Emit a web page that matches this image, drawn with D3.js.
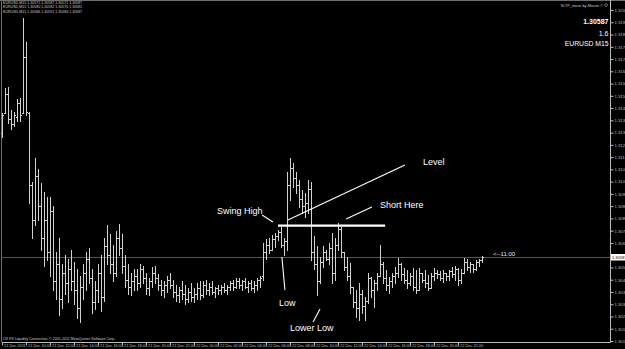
<!DOCTYPE html>
<html>
<head>
<meta charset="utf-8">
<script src="https://cdn.jsdelivr.net/npm/d3@7"></script>
<style>
  html, body { margin: 0; padding: 0; background: #000; }
  svg { display: block; }
  text { font-family: "Liberation Sans", Arial, sans-serif; }
</style>
</head>
<body>
<svg id="chart"></svg>
<script>
// EURUSD M15, one bar every 15 minutes from 21 Dec 2011 08:00
const barOpen = [
  1.3130, 1.3141, 1.3152, 1.3138, 1.3135, 1.3139, 1.3147, 1.3141, 1.3173, 1.3141,
  1.3100, 1.3080, 1.3105, 1.3088, 1.3070, 1.3080, 1.3062, 1.3085, 1.3045, 1.3055,
  1.3035, 1.3050, 1.3044, 1.3052, 1.3045, 1.3040, 1.3030, 1.3042, 1.3050, 1.3058,
  1.3047, 1.3033, 1.3040, 1.3050, 1.3036, 1.3065, 1.3060, 1.3055, 1.3050, 1.3070,
  1.3064, 1.3054, 1.3046, 1.3042, 1.3045, 1.3048, 1.3044, 1.3052, 1.3047, 1.3041,
  1.3045, 1.3050, 1.3047, 1.3043, 1.3040, 1.3043, 1.3046, 1.3043, 1.3039, 1.3037,
  1.3040, 1.3038, 1.3035, 1.3039, 1.3036, 1.3038, 1.3041, 1.3037, 1.3043, 1.3040,
  1.3042, 1.3039, 1.3041, 1.3040, 1.3042, 1.3040, 1.3042, 1.3044, 1.3042, 1.3045,
  1.3043, 1.3045, 1.3042, 1.3044, 1.3041, 1.3043, 1.3046, 1.3048, 1.3062, 1.3066,
  1.3063, 1.3069, 1.3071, 1.3073, 1.3066, 1.3068, 1.3100, 1.3110, 1.3104, 1.3100,
  1.3092, 1.3088, 1.3090, 1.3098, 1.3062, 1.3055, 1.3045, 1.3056, 1.3062, 1.3058,
  1.3064, 1.3050, 1.3066, 1.3075, 1.3062, 1.3053, 1.3048, 1.3042, 1.3033, 1.3030,
  1.3038, 1.3031, 1.3034, 1.3047, 1.3040, 1.3044, 1.3048, 1.3055, 1.3047, 1.3043,
  1.3045, 1.3048, 1.3050, 1.3055, 1.3049, 1.3046, 1.3044, 1.3048, 1.3042, 1.3040,
  1.3050, 1.3046, 1.3044, 1.3041, 1.3048, 1.3050, 1.3049, 1.3047, 1.3050, 1.3048,
  1.3051, 1.3049, 1.3052, 1.3046, 1.3050, 1.3056, 1.3053, 1.3055, 1.3052, 1.3056,
  1.3057
];
const barHigh = [
  1.3141, 1.31555, 1.3156, 1.3143, 1.3142, 1.3149, 1.3150, 1.31954, 1.31817, 1.31415,
  1.3102, 1.31155, 1.3109, 1.3101, 1.3096, 1.3093, 1.3093, 1.3088, 1.3062, 1.3070,
  1.3055, 1.3060, 1.3058, 1.3063, 1.3056, 1.3052, 1.3048, 1.3055, 1.3062, 1.3064,
  1.3052, 1.3045, 1.3055, 1.3060, 1.3070, 1.3077, 1.3072, 1.3066, 1.3074, 1.3078,
  1.3072, 1.3060, 1.3055, 1.3050, 1.3052, 1.3052, 1.3055, 1.3054, 1.3050, 1.3047,
  1.3053, 1.3054, 1.3049, 1.3046, 1.3045, 1.3048, 1.3050, 1.3046, 1.3043, 1.3042,
  1.3045, 1.3043, 1.3041, 1.3044, 1.3041, 1.3044, 1.3045, 1.3045, 1.3046, 1.3044,
  1.3045, 1.3042, 1.3043, 1.3043, 1.3044, 1.3043, 1.3045, 1.3046, 1.3047, 1.3047,
  1.3046, 1.3047, 1.3045, 1.3046, 1.3045, 1.3047, 1.3048, 1.3067, 1.3069, 1.3070,
  1.30715, 1.30727, 1.30745, 1.3076, 1.3070, 1.31075, 1.31155, 1.31126, 1.31075, 1.3103,
  1.3097, 1.30955, 1.3103, 1.3102, 1.3071, 1.3065, 1.3059, 1.3065, 1.3063, 1.3067,
  1.30727, 1.3070, 1.30784, 1.3076, 1.3062, 1.3059, 1.30555, 1.3042, 1.3040, 1.3044,
  1.3040, 1.3036, 1.3050, 1.30475, 1.3046, 1.3050, 1.30658, 1.3056, 1.30515, 1.30475,
  1.3050, 1.3053, 1.30584, 1.30555, 1.30527, 1.30515, 1.3050, 1.30527, 1.30515, 1.30527,
  1.3050, 1.30515, 1.30487, 1.3050, 1.30527, 1.30515, 1.3051, 1.30515, 1.3050, 1.30515,
  1.3053, 1.30538, 1.30527, 1.3052, 1.30584, 1.3058, 1.3056, 1.3055, 1.3057, 1.3058,
  1.30595
];
const barLow = [
  1.31275, 1.3141, 1.31355, 1.3132, 1.3134, 1.31366, 1.31366, 1.3141, 1.3140, 1.3090,
  1.3070, 1.3077, 1.3080, 1.3063, 1.3054, 1.3057, 1.3048, 1.3040, 1.3035, 1.3026,
  1.3030, 1.3038, 1.3033, 1.3040, 1.3032, 1.3024, 1.3022, 1.3035, 1.3040, 1.3044,
  1.3027, 1.3029, 1.3033, 1.3028, 1.3034, 1.3055, 1.3050, 1.3045, 1.3048, 1.3060,
  1.3050, 1.3042, 1.3038, 1.3037, 1.3040, 1.3040, 1.3042, 1.3044, 1.3038, 1.3037,
  1.3042, 1.3044, 1.3040, 1.3037, 1.3036, 1.3039, 1.3041, 1.3036, 1.3034, 1.3033,
  1.3035, 1.3032, 1.3033, 1.3034, 1.3033, 1.3035, 1.3035, 1.3036, 1.3038, 1.3037,
  1.3038, 1.3036, 1.3038, 1.3038, 1.3039, 1.3038, 1.3040, 1.3040, 1.3041, 1.3041,
  1.3040, 1.3041, 1.3039, 1.3040, 1.3039, 1.3040, 1.3042, 1.3046, 1.3058, 1.3061,
  1.3063, 1.30647, 1.30688, 1.30647, 1.3060, 1.3063, 1.30915, 1.3099, 1.30955, 1.30875,
  1.3084, 1.3082, 1.3084, 1.3057, 1.3052, 1.3037, 1.3044, 1.3053, 1.3057, 1.3055,
  1.3044, 1.3046, 1.3063, 1.3059, 1.30515, 1.3046, 1.30384, 1.30305, 1.30247, 1.3023,
  1.3027, 1.3023, 1.30327, 1.3036, 1.30305, 1.3040, 1.3048, 1.3044, 1.3040, 1.30384,
  1.3042, 1.3044, 1.30475, 1.3046, 1.3044, 1.3041, 1.3043, 1.3040, 1.30384, 1.3040,
  1.30446, 1.3042, 1.3040, 1.3041, 1.30458, 1.3047, 1.30458, 1.30446, 1.30458, 1.30458,
  1.30475, 1.30458, 1.3043, 1.3044, 1.3050, 1.30515, 1.30504, 1.30504, 1.30515, 1.3054,
  1.3056
];
const barClose = [
  1.3140, 1.3152, 1.3138, 1.3135, 1.3140, 1.3147, 1.3140, 1.3173, 1.3142, 1.3100,
  1.3080, 1.3105, 1.3088, 1.3070, 1.3080, 1.3062, 1.3085, 1.3045, 1.3055, 1.3035,
  1.3050, 1.3044, 1.3052, 1.3045, 1.3040, 1.3030, 1.3042, 1.3050, 1.3058, 1.3047,
  1.3033, 1.3040, 1.3050, 1.3036, 1.3065, 1.3060, 1.3055, 1.3050, 1.3070, 1.3064,
  1.3054, 1.3046, 1.3042, 1.3045, 1.3048, 1.3044, 1.3052, 1.3047, 1.3041, 1.3045,
  1.3050, 1.3047, 1.3043, 1.3040, 1.3043, 1.3046, 1.3043, 1.3039, 1.3037, 1.3040,
  1.3038, 1.3035, 1.3039, 1.3036, 1.3038, 1.3041, 1.3037, 1.3043, 1.3040, 1.3042,
  1.3039, 1.3041, 1.3040, 1.3042, 1.3040, 1.3042, 1.3044, 1.3042, 1.3045, 1.3043,
  1.3045, 1.3042, 1.3044, 1.3041, 1.3043, 1.3046, 1.3047, 1.3062, 1.3066, 1.3063,
  1.3069, 1.3071, 1.3073, 1.3066, 1.3068, 1.3100, 1.3110, 1.3104, 1.3100, 1.3092,
  1.3088, 1.3090, 1.3098, 1.3062, 1.3055, 1.3045, 1.3056, 1.3062, 1.3058, 1.3064,
  1.3050, 1.3066, 1.3075, 1.3062, 1.3053, 1.3048, 1.3042, 1.3033, 1.3030, 1.3038,
  1.3031, 1.3034, 1.3047, 1.3040, 1.3044, 1.3048, 1.3055, 1.3047, 1.3043, 1.3045,
  1.3048, 1.3050, 1.3055, 1.3049, 1.3046, 1.3044, 1.3048, 1.3042, 1.3040, 1.3050,
  1.3046, 1.3044, 1.3041, 1.3048, 1.3050, 1.3049, 1.3047, 1.3050, 1.3048, 1.3051,
  1.3049, 1.3052, 1.3046, 1.3050, 1.3056, 1.3053, 1.3055, 1.3052, 1.3056, 1.3057,
  1.30587
];

const priceTicks = [1.3011, 1.3018, 1.3025, 1.3032, 1.3039, 1.3046, 1.3053, 1.3060, 1.3067, 1.3074,
  1.3081, 1.3088, 1.3095, 1.3102, 1.3109, 1.3116, 1.3123, 1.3130, 1.3137, 1.3144,
  1.3151, 1.3158, 1.3165, 1.3172, 1.3179, 1.3186, 1.3193, 1.3200];

const timeTicks = ["2011-12-21 08:00", "2011-12-21 10:00", "2011-12-21 12:00", "2011-12-21 14:00",
  "2011-12-21 16:00", "2011-12-21 18:00", "2011-12-21 20:00", "2011-12-21 22:00",
  "2011-12-22 00:00", "2011-12-22 02:00", "2011-12-22 04:00", "2011-12-22 06:00",
  "2011-12-22 08:00", "2011-12-22 10:00", "2011-12-22 12:00", "2011-12-22 14:00",
  "2011-12-22 16:00", "2011-12-22 18:00", "2011-12-22 20:00", "2011-12-22 22:00"];

const infoLines = [
  "EURUSD,M15  1.30571  1.30587  1.30571  1.30587",
  "EURUSD,M15  1.30580  1.30582  1.30576  1.30581",
  "EURUSD,M15  1.30586  1.30591  1.30583  1.30587"
];

// hand drawn objects, placed by bar number and price
const levelLine = { from: 92, to: 127.7, price: 1.30769 };
const pointers = [
  { x1: 95.3, p1: 1.30801, x2: 134.3, p2: 1.31115 },
  { x1: 114.7, p1: 1.30807, x2: 123.3, p2: 1.30875 },
  { x1: 86.7, p1: 1.30829, x2: 90.3, p2: 1.30789 },
  { x1: 93.3, p1: 1.30590, x2: 94.3, p2: 1.30401 },
  { x1: 106, p1: 1.30293, x2: 103.7, p2: 1.30218 }
];
const notes = [
  { text: "Level", bar: 140.3, price: 1.31115 },
  { text: "Short Here", bar: 126, price: 1.30869 },
  { text: "Swing High", bar: 71.7, price: 1.30835 },
  { text: "Low", bar: 92.3, price: 1.30310 },
  { text: "Lower Low", bar: 96, price: 1.30167 }
];

const width = 625;
const height = 349;
const plotLeft = 2, plotRight = 610, plotBottom = 342;

const start = new Date(2011, 11, 21, 8, 0);
const barTime = i => new Date(start.getTime() + i * 15 * 60000);
const parseTime = d3.timeParse("%Y-%m-%d %H:%M");

const x = d3.scaleTime()
  .domain([start, barTime((plotRight - plotLeft) / 3)])
  .range([plotLeft, plotRight]);

const y = d3.scaleLinear()
  .domain([1.3011, 1.3200])
  .range([341, 10]);

const svg = d3.select("#chart")
  .attr("width", width)
  .attr("height", height)
  .style("background", "#000");

// window frame
svg.append("line").attr("x1", 0).attr("x2", width).attr("y1", 0.5).attr("y2", 0.5)
  .attr("stroke", "#6e6e6e");
svg.append("line").attr("x1", 1.5).attr("x2", 1.5).attr("y1", 0).attr("y2", plotBottom)
  .attr("stroke", "#6e6e6e");

const bars = barClose.map((c, i) => ({
  t: barTime(i), o: barOpen[i], h: barHigh[i], l: barLow[i], c: c
}));

const last = barClose[barClose.length - 1];

// bid line
const bidY = Math.round(y(last)) + 0.5;
svg.append("line")
  .attr("x1", plotLeft).attr("x2", plotRight)
  .attr("y1", bidY).attr("y2", bidY)
  .attr("stroke", "#44528a");

const g = svg.append("g").attr("shape-rendering", "crispEdges").attr("fill", "#d2d2d2");

g.selectAll(".hl")
  .data(bars)
  .enter().append("rect")
  .attr("class", "hl")
  .attr("x", d => Math.round(x(d.t)))
  .attr("y", d => Math.round(y(d.h)))
  .attr("width", 1)
  .attr("height", d => Math.max(1, Math.round(y(d.l)) - Math.round(y(d.h)) + 1));

g.selectAll(".op")
  .data(bars)
  .enter().append("rect")
  .attr("class", "op")
  .attr("x", d => Math.round(x(d.t)) - 1)
  .attr("y", d => Math.round(y(d.o)))
  .attr("width", 1)
  .attr("height", 1);

g.selectAll(".cl")
  .data(bars)
  .enter().append("rect")
  .attr("class", "cl")
  .attr("x", d => Math.round(x(d.t)) + 1)
  .attr("y", d => Math.round(y(d.c)))
  .attr("width", 1)
  .attr("height", 1);

// annotations
svg.append("line")
  .attr("x1", x(barTime(levelLine.from))).attr("x2", x(barTime(levelLine.to)))
  .attr("y1", y(levelLine.price)).attr("y2", y(levelLine.price))
  .attr("stroke", "#fff").attr("stroke-width", 2.2);

svg.selectAll(".pointer")
  .data(pointers)
  .enter().append("line")
  .attr("class", "pointer")
  .attr("x1", d => x(barTime(d.x1))).attr("y1", d => y(d.p1))
  .attr("x2", d => x(barTime(d.x2))).attr("y2", d => y(d.p2))
  .attr("stroke", "#fff").attr("stroke-width", 1.1);

svg.selectAll(".note")
  .data(notes)
  .enter().append("text")
  .attr("class", "note")
  .attr("x", d => x(barTime(d.bar)))
  .attr("y", d => y(d.price))
  .attr("fill", "#fff")
  .style("font-size", "9px")
  .text(d => d.text);

svg.append("text")
  .attr("x", x(barTime(163.7)))
  .attr("y", y(1.30595))
  .attr("fill", "#e0e0e0")
  .style("font-size", "6px")
  .text("<--11:00");

// price axis, the label under the price box is left out as in the terminal
const yAxis = d3.axisRight(y)
  .tickValues(priceTicks)
  .tickSize(3)
  .tickFormat(d => Math.abs(y(d) - bidY) < 5 ? "" : d3.format(".5f")(d));

const yAxisG = svg.append("g")
  .attr("transform", `translate(${plotRight + 0.5}, 0)`)
  .call(yAxis);
yAxisG.select(".domain").attr("stroke", "#bdbdbd").attr("d", `M0,0V${plotBottom + 0.5}`);
yAxisG.selectAll(".tick line").attr("stroke", "#bdbdbd");
yAxisG.selectAll(".tick text")
  .attr("x", 4)
  .attr("fill", "#bdbdbd")
  .style("font-size", "4.2px");

// current price box
svg.append("rect")
  .attr("x", plotRight + 1).attr("y", bidY - 3.5)
  .attr("width", 14).attr("height", 6.5)
  .attr("fill", "#fff");
svg.append("text")
  .attr("x", plotRight + 2).attr("y", bidY + 1.5)
  .attr("fill", "#000")
  .style("font-size", "4px")
  .text(d3.format(".5f")(last));

// time axis
const fmtFirst = d3.timeFormat("%d %b %Y");
const fmtTick = d3.timeFormat("%d %b %H:%M");
const tickDates = timeTicks.map(parseTime);

const xAxis = d3.axisBottom(x)
  .tickValues(tickDates)
  .tickSize(3)
  .tickFormat((d, i) => i === 0 ? fmtFirst(d) : fmtTick(d));

const xAxisG = svg.append("g")
  .attr("transform", `translate(0, ${plotBottom + 0.5})`)
  .call(xAxis);
xAxisG.select(".domain").attr("stroke", "#bdbdbd").attr("d", `M${plotLeft},0H${plotRight + 0.5}`);
xAxisG.selectAll(".tick line").attr("stroke", "#bdbdbd");
xAxisG.selectAll(".tick text")
  .attr("x", 1.5)
  .attr("y", 2.2)
  .attr("dy", "0.71em")
  .attr("fill", "#bdbdbd")
  .style("text-anchor", "start")
  .style("font-size", "3.9px");

// info lines, top left
svg.selectAll(".info")
  .data(infoLines)
  .enter().append("text")
  .attr("class", "info")
  .attr("x", 3)
  .attr("y", (d, i) => [4.3, 7.6, 13.2][i])
  .attr("fill", "#c8c8c8")
  .style("font-size", "3.6px")
  .text(d => d);

// top right labels
svg.append("text").attr("x", 603).attr("y", 6.5).attr("text-anchor", "end")
  .attr("fill", "#c8c8c8").style("font-size", "3.8px").text("SLTP_move-by-Mouse ©");
svg.append("circle").attr("cx", 606).attr("cy", 5).attr("r", 1.4)
  .attr("fill", "none").attr("stroke", "#c8c8c8").attr("stroke-width", 0.5);
svg.append("text").attr("x", 608.5).attr("y", 23.8).attr("text-anchor", "end")
  .attr("fill", "#fff").style("font-size", "7px").style("font-weight", "bold")
  .text(d3.format(".5f")(last));
svg.append("text").attr("x", 608.5).attr("y", 35.8).attr("text-anchor", "end")
  .attr("fill", "#fff").style("font-size", "7px").text("1.6");
svg.append("text").attr("x", 608.5).attr("y", 46.3).attr("text-anchor", "end")
  .attr("fill", "#fff").style("font-size", "6.8px").text("EURUSD M15");

// copyright line
svg.append("text")
  .attr("x", 3).attr("y", 340.4)
  .attr("fill", "#c8c8c8")
  .style("font-size", "3.6px")
  .text("OX FX Liquidity Connection, © 2001-2011 MetaQuotes Software Corp.");
</script>
</body>
</html>
